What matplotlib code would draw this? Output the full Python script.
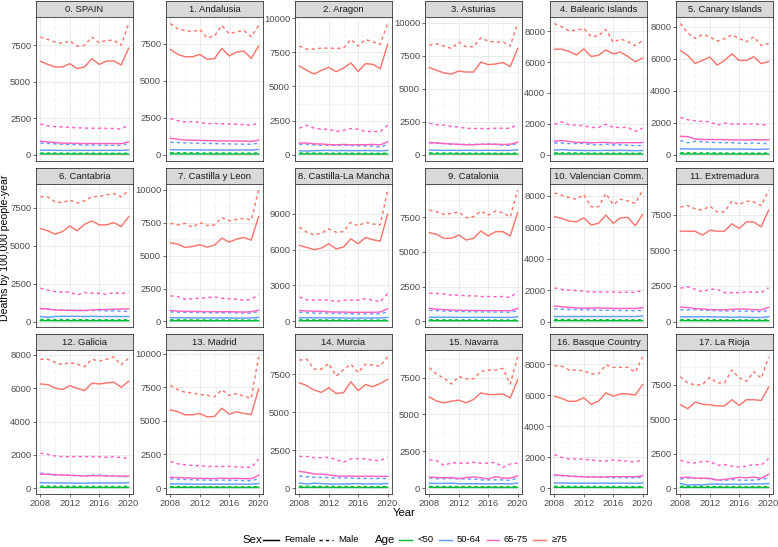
import matplotlib
matplotlib.use("Agg")
import matplotlib.pyplot as plt
from matplotlib.lines import Line2D
from matplotlib.ticker import MultipleLocator, AutoMinorLocator

plt.rcParams['font.family'] = ['Liberation Sans', 'DejaVu Sans']

#======================Data==========================

years = list(range(2008, 2021))

regions = ["0. SPAIN", "1. Andalusia", "2. Aragon", "3. Asturias", "4. Balearic Islands",
           "5. Canary Islands", "6. Cantabria", "7. Castilla y Leon", "8. Castilla-La Mancha",
           "9. Catalonia", "10. Valencian Comm.", "11. Extremadura", "12. Galicia",
           "13. Madrid", "14. Murcia", "15. Navarra", "16. Basque Country", "17. La Rioja"]

y_step = [2500, 2500, 2500, 2500, 2000, 2000, 2500, 2500, 3000,
          2500, 2000, 2500, 2000, 2500, 2500, 2500, 2000, 2500]

ages = ["<50", "50-64", "65-75", "\u226575"]
age_colors = ["#00BA38", "#619CFF", "#FF61C3", "#F8766D"]

# female / male, age >=75
f_ge75 = [
    [6410, 6200, 6020, 6020, 6250, 5910, 6020, 6590, 6200, 6430, 6430, 6160, 7300],
    [7120, 6780, 6620, 6620, 6780, 6450, 6490, 7180, 6670, 6940, 7000, 6510, 7340],
    [6500, 6180, 5910, 6180, 6400, 6080, 6350, 6720, 6110, 6670, 6620, 6300, 8080],
    [6600, 6400, 6200, 6120, 6350, 6270, 6270, 7030, 6830, 6880, 7000, 6680, 8040],
    [6830, 6830, 6680, 6460, 6850, 6360, 6440, 6780, 6530, 6640, 6360, 6020, 6250],
    [6510, 6200, 5700, 5890, 6100, 5600, 5890, 6300, 5890, 5890, 6120, 5690, 5830],
    [6120, 5970, 5750, 5920, 6290, 5970, 6400, 6620, 6360, 6360, 6510, 6250, 6890],
    [5980, 5880, 5630, 5700, 5830, 5650, 5800, 6330, 6030, 6260, 6380, 6180, 7970],
    [6350, 6180, 5990, 6130, 6490, 6050, 6210, 6900, 6490, 7010, 6820, 6710, 8950],
    [6380, 6260, 5970, 5970, 6210, 5850, 5970, 6500, 6140, 6450, 6450, 6140, 7810],
    [6660, 6550, 6380, 6340, 6590, 6130, 6240, 6760, 6240, 6590, 6610, 6090, 6800],
    [6350, 6350, 6350, 6070, 6420, 6350, 6350, 6870, 6540, 7010, 6990, 6660, 7830],
    [6260, 6220, 6020, 5920, 6160, 6000, 5860, 6300, 6260, 6320, 6360, 6060, 6420],
    [5810, 5690, 5450, 5450, 5550, 5300, 5330, 5940, 5500, 5670, 5550, 5470, 7370],
    [6930, 6740, 6450, 6300, 6610, 6230, 6280, 7000, 6410, 6820, 6670, 6890, 7150],
    [6170, 5900, 5790, 5900, 5970, 5790, 6010, 6460, 6350, 6350, 6390, 6120, 7340],
    [5930, 5780, 5590, 5610, 5830, 5400, 5610, 6140, 5930, 6080, 6080, 6000, 6670],
    [6040, 5750, 6230, 6070, 6040, 5950, 5950, 6400, 5990, 6400, 6400, 6350, 7310],
]
m_ge75 = [
    [8070, 7910, 7730, 7640, 7800, 7450, 7500, 8070, 7680, 7860, 7840, 7520, 9000],
    [8860, 8500, 8390, 8300, 8460, 7900, 8010, 8730, 8170, 8300, 8390, 7970, 8730],
    [7960, 7740, 7740, 7810, 7810, 7790, 7810, 8440, 7960, 8440, 8270, 8080, 9610],
    [8310, 8410, 8240, 8060, 8540, 8190, 8190, 8870, 8610, 8540, 8560, 8240, 9950],
    [8490, 8280, 8020, 8060, 8170, 7640, 7700, 8110, 7280, 7490, 7320, 7060, 7380],
    [8190, 7610, 7260, 7500, 7360, 7090, 7240, 7480, 7260, 7050, 7360, 6820, 6950],
    [8220, 8200, 7870, 7830, 8000, 7790, 7940, 8220, 8220, 8330, 8420, 8200, 8640],
    [7460, 7340, 7460, 7160, 7510, 7290, 7340, 7890, 7660, 7760, 7840, 7710, 9980],
    [7870, 7450, 7230, 7370, 7730, 7450, 7510, 8280, 7980, 8280, 8140, 8060, 10960],
    [8000, 7880, 7690, 7760, 7860, 7450, 7520, 7930, 7640, 7930, 7810, 7500, 9430],
    [8170, 8020, 7870, 7770, 8060, 7290, 7290, 8130, 7430, 7770, 7660, 7500, 8340],
    [8040, 8150, 7920, 7830, 8110, 7710, 7710, 8460, 8220, 8460, 8410, 8150, 9230],
    [7740, 7740, 7550, 7410, 7550, 7450, 7290, 7740, 7640, 7740, 7880, 7410, 7800],
    [7640, 7320, 7130, 7080, 6960, 6910, 6790, 7320, 6890, 7030, 6840, 6670, 9760],
    [8420, 8480, 7830, 7830, 8200, 7370, 7800, 8150, 7610, 8150, 8090, 8020, 8630],
    [8170, 7720, 7460, 7060, 7570, 7410, 7410, 7900, 8010, 8010, 8120, 7060, 8900],
    [7890, 7870, 7620, 7620, 7560, 7370, 7370, 7940, 7790, 7790, 7790, 7470, 8460],
    [8070, 7620, 7470, 7500, 8020, 7620, 7620, 8550, 7980, 7740, 8430, 7950, 9500],
]

# age 65-75
f_65_75 = [
    [930, 880, 840, 800, 790, 780, 770, 770, 770, 770, 770, 760, 880],
    [1120, 1060, 1000, 990, 980, 960, 950, 940, 940, 930, 930, 910, 990],
    [850, 860, 800, 790, 750, 720, 760, 720, 740, 730, 760, 720, 950],
    [930, 900, 850, 820, 790, 760, 760, 800, 790, 800, 780, 800, 940],
    [880, 920, 870, 800, 810, 770, 800, 800, 760, 780, 790, 780, 800],
    [1160, 1140, 1000, 960, 960, 960, 950, 940, 940, 930, 950, 940, 950],
    [860, 820, 760, 740, 740, 720, 730, 760, 790, 790, 810, 820, 830],
    [830, 780, 760, 760, 750, 740, 740, 730, 740, 720, 710, 730, 850],
    [900, 870, 850, 840, 800, 780, 780, 760, 760, 760, 760, 780, 1050],
    [930, 880, 840, 820, 800, 790, 780, 780, 770, 770, 770, 760, 930],
    [990, 940, 900, 870, 850, 850, 870, 850, 840, 830, 840, 830, 880],
    [1020, 980, 900, 880, 840, 820, 820, 860, 880, 870, 830, 820, 1000],
    [850, 840, 820, 800, 780, 770, 740, 760, 760, 740, 750, 730, 730],
    [800, 780, 760, 740, 720, 710, 700, 740, 700, 720, 700, 690, 950],
    [1110, 1040, 940, 930, 880, 810, 790, 800, 780, 790, 790, 780, 780],
    [760, 720, 700, 720, 640, 720, 760, 700, 620, 780, 680, 680, 820],
    [850, 820, 780, 750, 730, 720, 720, 730, 740, 740, 740, 730, 800],
    [760, 790, 720, 720, 700, 580, 620, 700, 780, 740, 800, 700, 1000],
]
m_65_75 = [
    [2110, 1980, 1930, 1900, 1880, 1850, 1830, 1820, 1820, 1810, 1800, 1760, 2050],
    [2450, 2300, 2220, 2250, 2200, 2100, 2120, 2100, 2080, 2060, 2050, 2000, 2150],
    [1950, 2160, 1950, 1870, 1870, 1700, 1800, 1920, 1870, 1700, 1700, 1680, 2160],
    [2390, 2280, 2250, 2150, 2100, 2000, 1990, 1990, 1980, 2010, 2010, 2010, 2300],
    [1980, 2130, 1940, 1920, 1880, 1770, 1770, 1980, 1770, 1770, 1770, 1520, 1730],
    [2340, 2190, 2130, 2090, 2070, 1860, 1980, 1920, 1920, 1920, 1940, 1880, 1880],
    [2190, 2060, 1970, 1950, 1930, 1750, 1910, 1860, 1860, 1780, 1910, 1820, 1950],
    [1940, 1880, 1680, 1730, 1760, 1810, 1860, 1760, 1730, 1680, 1610, 1680, 2010],
    [2040, 1800, 1770, 1800, 1770, 1660, 1770, 1770, 1770, 1900, 1770, 1630, 2320],
    [2030, 2010, 1960, 1890, 1890, 1840, 1840, 1790, 1790, 1770, 1790, 1720, 2130],
    [2140, 2040, 2000, 1970, 1930, 1870, 1880, 1870, 1870, 1860, 1870, 1860, 1990],
    [2340, 2450, 2270, 2100, 2270, 2270, 2030, 2030, 2030, 2080, 2080, 2030, 2380],
    [2100, 2040, 1940, 1900, 1900, 1900, 1900, 1900, 1900, 1860, 1900, 1840, 1820],
    [1970, 1800, 1730, 1680, 1660, 1610, 1610, 1610, 1610, 1580, 1560, 1530, 2140],
    [2090, 2090, 2010, 2010, 2030, 1880, 1720, 1920, 1940, 1940, 1830, 1830, 2030],
    [1910, 1860, 1530, 1730, 1690, 1690, 1750, 1690, 1690, 1750, 1400, 1640, 1690],
    [2170, 1980, 1880, 1880, 1860, 1820, 1770, 1750, 1820, 1770, 1730, 1690, 1820],
    [2010, 1860, 1820, 1930, 1930, 1650, 1700, 1580, 1530, 1580, 1720, 1670, 2130],
]

# age 50-64
f_50_64 = [
    [310, 310, 305, 300, 300, 300, 300, 300, 300, 300, 300, 300, 330],
    [350, 345, 340, 335, 330, 330, 330, 330, 330, 330, 330, 325, 360],
    [290, 270, 300, 310, 320, 300, 310, 300, 300, 310, 300, 290, 320],
    [350, 340, 330, 340, 330, 340, 330, 330, 340, 330, 330, 330, 380],
    [300, 340, 300, 290, 280, 280, 280, 290, 280, 290, 280, 270, 280],
    [380, 380, 370, 370, 360, 360, 360, 360, 360, 360, 350, 350, 370],
    [330, 280, 330, 340, 340, 340, 330, 340, 330, 330, 330, 330, 330],
    [280, 270, 270, 270, 260, 260, 260, 260, 260, 250, 250, 260, 300],
    [300, 300, 300, 300, 290, 290, 280, 280, 280, 280, 280, 280, 330],
    [300, 300, 300, 300, 290, 290, 290, 290, 290, 290, 290, 280, 340],
    [320, 320, 320, 320, 320, 320, 320, 320, 320, 320, 320, 320, 360],
    [330, 330, 330, 340, 330, 320, 320, 300, 310, 300, 290, 280, 340],
    [340, 330, 320, 320, 320, 310, 310, 320, 320, 320, 320, 320, 340],
    [300, 300, 300, 290, 290, 290, 290, 290, 290, 290, 290, 290, 330],
    [340, 280, 330, 310, 280, 280, 280, 290, 310, 280, 290, 280, 320],
    [320, 320, 320, 340, 300, 300, 300, 290, 290, 300, 300, 290, 340],
    [330, 330, 320, 320, 320, 320, 320, 320, 320, 320, 320, 310, 330],
    [330, 220, 250, 230, 280, 300, 270, 280, 270, 280, 300, 300, 330],
]
m_50_64 = [
    [800, 780, 750, 720, 700, 690, 680, 670, 660, 650, 650, 640, 780],
    [850, 830, 810, 800, 780, 770, 760, 750, 740, 730, 720, 720, 800],
    [750, 770, 720, 700, 700, 690, 700, 680, 660, 650, 640, 560, 750],
    [900, 880, 850, 800, 780, 780, 790, 780, 830, 780, 720, 720, 850],
    [760, 760, 730, 730, 740, 660, 640, 690, 640, 650, 620, 590, 600],
    [900, 760, 850, 820, 790, 770, 760, 760, 740, 720, 750, 720, 700],
    [840, 830, 770, 750, 720, 740, 720, 730, 730, 700, 710, 680, 660],
    [720, 700, 690, 680, 670, 660, 650, 660, 650, 640, 630, 630, 750],
    [760, 720, 700, 690, 680, 670, 660, 640, 620, 620, 630, 620, 800],
    [800, 770, 740, 730, 710, 700, 690, 680, 680, 670, 670, 650, 780],
    [800, 780, 770, 760, 750, 740, 730, 720, 710, 700, 700, 690, 720],
    [820, 820, 840, 800, 780, 760, 740, 740, 730, 720, 700, 700, 780],
    [910, 850, 800, 800, 780, 760, 750, 790, 790, 760, 740, 700, 700],
    [690, 660, 640, 620, 600, 590, 580, 600, 570, 570, 550, 540, 700],
    [800, 760, 720, 720, 700, 680, 680, 660, 650, 640, 640, 640, 640],
    [680, 640, 640, 660, 620, 620, 620, 560, 560, 560, 560, 520, 700],
    [820, 800, 780, 760, 740, 720, 700, 690, 680, 680, 670, 660, 700],
    [660, 720, 700, 700, 680, 600, 560, 620, 580, 560, 580, 640, 720],
]

# age <50
f_lt50 = [
    [55, 54, 53, 52, 51, 50, 50, 49, 48, 48, 47, 47, 50],
    [65, 63, 62, 60, 59, 58, 57, 56, 55, 55, 54, 54, 58],
    [60, 58, 57, 56, 55, 54, 53, 52, 52, 51, 50, 50, 54],
    [62, 60, 59, 58, 57, 56, 55, 55, 54, 53, 53, 52, 56],
    [58, 57, 56, 55, 54, 53, 52, 51, 51, 50, 50, 49, 52],
    [64, 62, 61, 60, 59, 58, 57, 56, 56, 55, 55, 54, 57],
    [58, 57, 55, 54, 54, 53, 52, 52, 51, 50, 50, 49, 52],
    [52, 51, 50, 49, 48, 48, 47, 46, 46, 45, 45, 45, 48],
    [60, 58, 57, 56, 55, 54, 53, 52, 52, 51, 51, 50, 54],
    [52, 51, 50, 49, 48, 47, 47, 46, 46, 45, 45, 44, 48],
    [60, 58, 57, 56, 55, 54, 53, 53, 52, 52, 51, 51, 54],
    [62, 61, 60, 59, 58, 57, 56, 55, 55, 54, 54, 53, 57],
    [60, 59, 58, 57, 56, 55, 54, 54, 53, 53, 52, 52, 55],
    [50, 49, 48, 47, 46, 45, 45, 44, 44, 43, 43, 42, 46],
    [60, 59, 57, 56, 55, 54, 53, 53, 52, 52, 51, 51, 54],
    [52, 50, 49, 48, 47, 47, 46, 45, 45, 44, 44, 44, 47],
    [50, 49, 48, 47, 46, 46, 45, 45, 44, 44, 43, 43, 46],
    [52, 50, 49, 48, 48, 47, 46, 46, 45, 45, 44, 44, 47],
]
m_lt50 = [
    [120, 117, 114, 111, 108, 106, 104, 102, 100, 99, 98, 97, 104],
    [145, 141, 138, 134, 131, 128, 125, 123, 121, 119, 118, 117, 124],
    [125, 122, 119, 116, 113, 111, 109, 107, 105, 104, 103, 102, 108],
    [135, 131, 128, 125, 122, 119, 117, 115, 113, 111, 110, 109, 116],
    [125, 122, 119, 116, 113, 110, 108, 106, 104, 103, 102, 101, 107],
    [135, 131, 128, 125, 122, 120, 117, 115, 113, 112, 111, 110, 116],
    [135, 131, 128, 125, 122, 119, 117, 115, 113, 111, 110, 109, 115],
    [115, 112, 109, 107, 105, 103, 101, 99, 98, 97, 96, 95, 101],
    [125, 122, 119, 116, 113, 111, 109, 107, 105, 104, 103, 102, 108],
    [115, 112, 110, 107, 105, 103, 101, 99, 98, 97, 96, 95, 101],
    [135, 131, 128, 125, 122, 119, 117, 115, 113, 111, 110, 109, 115],
    [135, 132, 129, 126, 123, 121, 119, 117, 115, 114, 113, 112, 118],
    [130, 127, 124, 121, 119, 117, 115, 113, 111, 110, 109, 108, 114],
    [105, 102, 100, 98, 96, 94, 92, 91, 90, 89, 88, 87, 93],
    [125, 122, 119, 116, 113, 111, 109, 107, 105, 104, 103, 102, 108],
    [115, 112, 109, 107, 105, 103, 101, 99, 98, 97, 96, 95, 101],
    [115, 112, 109, 107, 105, 103, 101, 99, 98, 97, 96, 95, 101],
    [125, 122, 119, 116, 113, 111, 109, 107, 105, 104, 103, 102, 108],
]

female = [f_lt50, f_50_64, f_65_75, f_ge75]
male = [m_lt50, m_50_64, m_65_75, m_ge75]

#======================Layout (pixels)==========================

W, H = 778, 547
col_left = [36, 166, 295, 425, 550, 676]
panel_w = 97
row_top = [1, 167.7, 334.4]
strip_h = 16
panel_h = 143.6
dash = (2.2, 2.2)
lw = 1.05

fig = plt.figure(figsize=(W / 100, H / 100), dpi=100)

def px_rect(x, y, w, h):
    return [x / W, 1 - (y + h) / H, w / W, h / H]

for i, name in enumerate(regions):
    r, c = divmod(i, 6)
    x0 = col_left[c]
    y0 = row_top[r]

    # strip
    sax = fig.add_axes(px_rect(x0, y0, panel_w, strip_h))
    sax.set_facecolor("#D9D9D9")
    sax.set_xticks([])
    sax.set_yticks([])
    for s in sax.spines.values():
        s.set_color("#333333")
        s.set_linewidth(0.6)
    sax.text(0.5, 0.47, name, ha="center", va="center", fontsize=6.8,
             color="#1A1A1A", transform=sax.transAxes)

    # panel
    ax = fig.add_axes(px_rect(x0, y0 + strip_h, panel_w, panel_h))
    ax.set_facecolor("white")
    for k in range(4):
        ax.plot(years, female[k][i], color=age_colors[k], lw=lw, solid_joinstyle="round")
        ax.plot(years, male[k][i], color=age_colors[k], lw=lw, linestyle=(0, dash))

    allv = [v for grp in (female, male) for s in grp for v in s[i]]
    lo, hi = min(allv), max(allv)
    pad = 0.05 * (hi - lo)
    ax.set_ylim(lo - pad, hi + pad)
    ax.set_xlim(2008 - 0.6, 2020 + 0.6)

    ax.yaxis.set_major_locator(MultipleLocator(y_step[i]))
    ax.yaxis.set_minor_locator(AutoMinorLocator(2))
    ax.xaxis.set_major_locator(MultipleLocator(4))
    ax.xaxis.set_minor_locator(AutoMinorLocator(2))
    ax.grid(which="major", color="#EBEBEB", lw=0.7)
    ax.grid(which="minor", color="#F2F2F2", lw=0.4)
    ax.set_axisbelow(True)

    ax.tick_params(which="major", length=2, width=0.5, color="#333333",
                   labelsize=6.8, labelcolor="#4D4D4D", pad=1.5)
    ax.tick_params(which="minor", length=0)
    if r < 2:
        ax.tick_params(axis="x", labelbottom=False, length=0)
    ax.set_xticks([2008, 2012, 2016, 2020])
    for s in ax.spines.values():
        s.set_color("#333333")
        s.set_linewidth(0.6)

#======================Axis titles==========================

fig.text(5.5 / W, 1 - 247.5 / H, "Deaths by 100,000 people-year", rotation=90,
         ha="center", va="center", fontsize=7.6, color="black")
fig.text(404 / W, 1 - 513 / H, "Year", ha="center", va="center", fontsize=8, color="black")

#======================Legend==========================

ly = 1 - 540 / H

def leg_line(x1, x2, color, ls="-"):
    ln = Line2D([x1 / W, x2 / W], [ly, ly], color=color, lw=lw,
                linestyle=ls, transform=fig.transFigure)
    fig.add_artist(ln)

fig.text(242 / W, ly, "Sex", ha="left", va="center", fontsize=8.2)
leg_line(263, 279, "black")
fig.text(284 / W, ly, "Female", ha="left", va="center", fontsize=6.8)
leg_line(319, 333, "black", (0, dash))
fig.text(338 / W, ly, "Male", ha="left", va="center", fontsize=6.8)

fig.text(375 / W, ly, "Age", ha="left", va="center", fontsize=8.2)
leg_x = [(399, 412, 418), (439, 452, 457), (487, 499, 504), (533, 546, 552)]
for k, (a, b, t) in enumerate(leg_x):
    leg_line(a, b, age_colors[k])
    fig.text(t / W, ly, ages[k], ha="left", va="center", fontsize=6.8)

fig.savefig("out.png", dpi=100)
